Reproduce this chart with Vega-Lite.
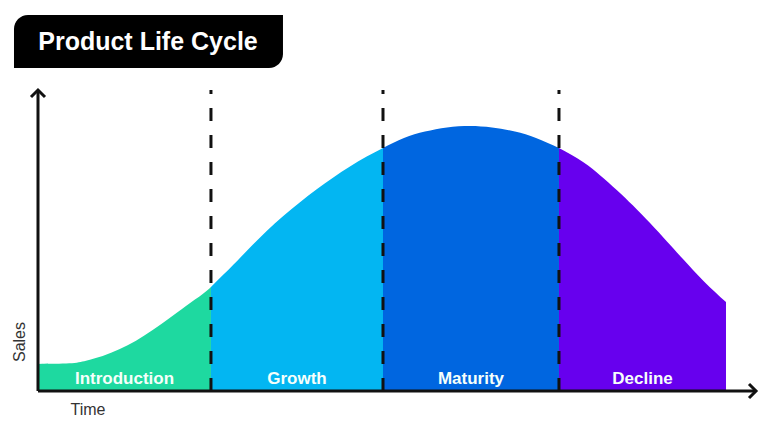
{
  "$schema": "https://vega.github.io/schema/vega-lite/v6.json",
  "width": 768,
  "height": 432,
  "autosize": {"type": "none"},
  "padding": 0,
  "background": "white",
  "config": {"view": {"stroke": null}},
  "data": {"values": [{}]},
  "datasets": {
    "curve": [
      {"stage": "Introduction", "time": 0, "sales": 9.0},
      {"stage": "Introduction", "time": 4.36, "sales": 9.2},
      {"stage": "Introduction", "time": 6.69, "sales": 10.07},
      {"stage": "Introduction", "time": 9.01, "sales": 11.63},
      {"stage": "Introduction", "time": 11.32, "sales": 13.85},
      {"stage": "Introduction", "time": 13.65, "sales": 16.71},
      {"stage": "Introduction", "time": 15.97, "sales": 20.27},
      {"stage": "Introduction", "time": 18.29, "sales": 24.15},
      {"stage": "Introduction", "time": 20.61, "sales": 28.24},
      {"stage": "Introduction", "time": 22.94, "sales": 32.23},
      {"stage": "Introduction", "time": 24.09, "sales": 34.55},
      {"stage": "Growth", "time": 24.09, "sales": 34.55},
      {"stage": "Growth", "time": 27.2, "sales": 41.93},
      {"stage": "Growth", "time": 29.53, "sales": 47.67},
      {"stage": "Growth", "time": 31.85, "sales": 53.16},
      {"stage": "Growth", "time": 34.16, "sales": 58.11},
      {"stage": "Growth", "time": 36.49, "sales": 62.72},
      {"stage": "Growth", "time": 38.82, "sales": 67.01},
      {"stage": "Growth", "time": 41.13, "sales": 70.96},
      {"stage": "Growth", "time": 43.45, "sales": 74.58},
      {"stage": "Growth", "time": 45.78, "sales": 77.87},
      {"stage": "Growth", "time": 48.05, "sales": 80.7},
      {"stage": "Maturity", "time": 48.05, "sales": 80.7},
      {"stage": "Maturity", "time": 50.97, "sales": 84.02},
      {"stage": "Maturity", "time": 53.9, "sales": 86.18},
      {"stage": "Maturity", "time": 56.96, "sales": 87.55},
      {"stage": "Maturity", "time": 60.17, "sales": 88.04},
      {"stage": "Maturity", "time": 63.23, "sales": 87.55},
      {"stage": "Maturity", "time": 66.43, "sales": 86.18},
      {"stage": "Maturity", "time": 69.36, "sales": 84.02},
      {"stage": "Maturity", "time": 72.56, "sales": 80.73},
      {"stage": "Decline", "time": 72.56, "sales": 80.73},
      {"stage": "Decline", "time": 75.91, "sales": 76.11},
      {"stage": "Decline", "time": 78.27, "sales": 71.69},
      {"stage": "Decline", "time": 80.64, "sales": 66.71},
      {"stage": "Decline", "time": 82.87, "sales": 61.59},
      {"stage": "Decline", "time": 85.24, "sales": 55.78},
      {"stage": "Decline", "time": 87.6, "sales": 49.67},
      {"stage": "Decline", "time": 89.83, "sales": 43.82},
      {"stage": "Decline", "time": 92.76, "sales": 36.41},
      {"stage": "Decline", "time": 95.82, "sales": 29.57}
    ],
    "stages": [
      {"stage": "Introduction", "start": 0, "end": 24.09},
      {"stage": "Growth", "start": 24.09, "end": 48.05},
      {"stage": "Maturity", "start": 48.05, "end": 72.56},
      {"stage": "Decline", "start": 72.56, "end": 95.82}
    ]
  },
  "layer": [
    {
      "data": {"name": "curve"},
      "mark": {"type": "area", "interpolate": "natural"},
      "encoding": {
        "x": {"field": "time", "type": "quantitative", "axis": null, "scale": {"domain": [-5.292, 101.671], "nice": false, "zero": false}},
        "y": {"field": "sales", "type": "quantitative", "axis": null, "stack": null, "scale": {"domain": [-13.621, 129.9], "nice": false, "zero": false}},
        "y2": {"datum": 0},
        "color": {"field": "stage", "type": "nominal", "legend": null,
          "scale": {"domain": ["Introduction", "Growth", "Maturity", "Decline"], "range": ["#1ed9a0", "#03b6f2", "#0066e0", "#6700ee"]}}
      }
    },
    {
      "data": {"name": "stages"},
      "transform": [{"calculate": "(datum.start + datum.end) / 2", "as": "mid"}],
      "mark": {"type": "text", "font": "Liberation Sans", "fontWeight": "bold", "fontSize": 17, "color": "#f6fffb", "align": "center", "baseline": "middle"},
      "encoding": {
        "x": {"field": "mid", "type": "quantitative", "scale": {"domain": [-5.292, 101.671], "nice": false, "zero": false}},
        "y": {"datum": 4.0, "scale": {"domain": [-13.621, 129.9], "nice": false, "zero": false}},
        "text": {"field": "stage"}
      }
    },
    {
      "data": {"name": "stages"},
      "transform": [{"filter": "datum.start > 0"}],
      "mark": {"type": "rule", "strokeWidth": 3, "strokeDash": [13, 14], "color": "#111111"},
      "encoding": {
        "x": {"field": "start", "type": "quantitative", "scale": {"domain": [-5.292, 101.671], "nice": false, "zero": false}},
        "y": {"datum": 0, "scale": {"domain": [-13.621, 129.9], "nice": false, "zero": false}},
        "y2": {"datum": 100}
      }
    },
    {
      "mark": {"type": "rule", "strokeWidth": 3, "color": "#111111"},
      "encoding": {
        "x": {"datum": 0, "scale": {"domain": [-5.292, 101.671], "nice": false, "zero": false}},
        "x2": {"datum": 100},
        "y": {"datum": 0, "scale": {"domain": [-13.621, 129.9], "nice": false, "zero": false}}
      }
    },
    {
      "mark": {"type": "rule", "strokeWidth": 3, "color": "#111111"},
      "encoding": {
        "x": {"datum": 0, "scale": {"domain": [-5.292, 101.671], "nice": false, "zero": false}},
        "y": {"datum": 0, "scale": {"domain": [-13.621, 129.9], "nice": false, "zero": false}},
        "y2": {"datum": 100}
      }
    },
    {
      "mark": {"type": "point", "shape": "M-1,1L0,0L1,1", "filled": false, "size": 196, "strokeWidth": 3, "color": "#111111", "opacity": 1},
      "encoding": {
        "x": {"datum": 0, "scale": {"domain": [-5.292, 101.671], "nice": false, "zero": false}},
        "y": {"datum": 100, "scale": {"domain": [-13.621, 129.9], "nice": false, "zero": false}}
      }
    },
    {
      "mark": {"type": "point", "shape": "M-1,-1L0,0L-1,1", "filled": false, "size": 196, "strokeWidth": 3, "color": "#111111", "opacity": 1},
      "encoding": {
        "x": {"datum": 100, "scale": {"domain": [-5.292, 101.671], "nice": false, "zero": false}},
        "y": {"datum": 0, "scale": {"domain": [-13.621, 129.9], "nice": false, "zero": false}}
      }
    },
    {
      "mark": {"type": "rect", "color": "#000000", "cornerRadiusTopLeft": 14, "cornerRadiusBottomRight": 14},
      "encoding": {
        "x": {"datum": -3.343, "scale": {"domain": [-5.292, 101.671], "nice": false, "zero": false}},
        "x2": {"datum": 34.12},
        "y": {"datum": 124.9, "scale": {"domain": [-13.621, 129.9], "nice": false, "zero": false}},
        "y2": {"datum": 107.3}
      }
    },
    {
      "mark": {"type": "text", "text": "Product Life Cycle", "font": "Liberation Sans", "fontWeight": "bold", "fontSize": 25, "color": "white", "align": "center", "baseline": "middle"},
      "encoding": {
        "x": {"datum": 15.32, "scale": {"domain": [-5.292, 101.671], "nice": false, "zero": false}},
        "y": {"datum": 115.9, "scale": {"domain": [-13.621, 129.9], "nice": false, "zero": false}}
      }
    },
    {
      "mark": {"type": "text", "text": "Sales", "font": "Liberation Sans", "fontSize": 16, "color": "#333333", "align": "center", "baseline": "middle", "angle": 270},
      "encoding": {
        "x": {"datum": -2.507, "scale": {"domain": [-5.292, 101.671], "nice": false, "zero": false}},
        "y": {"datum": 16.28, "scale": {"domain": [-13.621, 129.9], "nice": false, "zero": false}}
      }
    },
    {
      "mark": {"type": "text", "text": "Time", "font": "Liberation Sans", "fontSize": 16, "color": "#333333", "align": "center", "baseline": "middle"},
      "encoding": {
        "x": {"datum": 6.96, "scale": {"domain": [-5.292, 101.671], "nice": false, "zero": false}},
        "y": {"datum": -6.31, "scale": {"domain": [-13.621, 129.9], "nice": false, "zero": false}}
      }
    }
  ]
}
